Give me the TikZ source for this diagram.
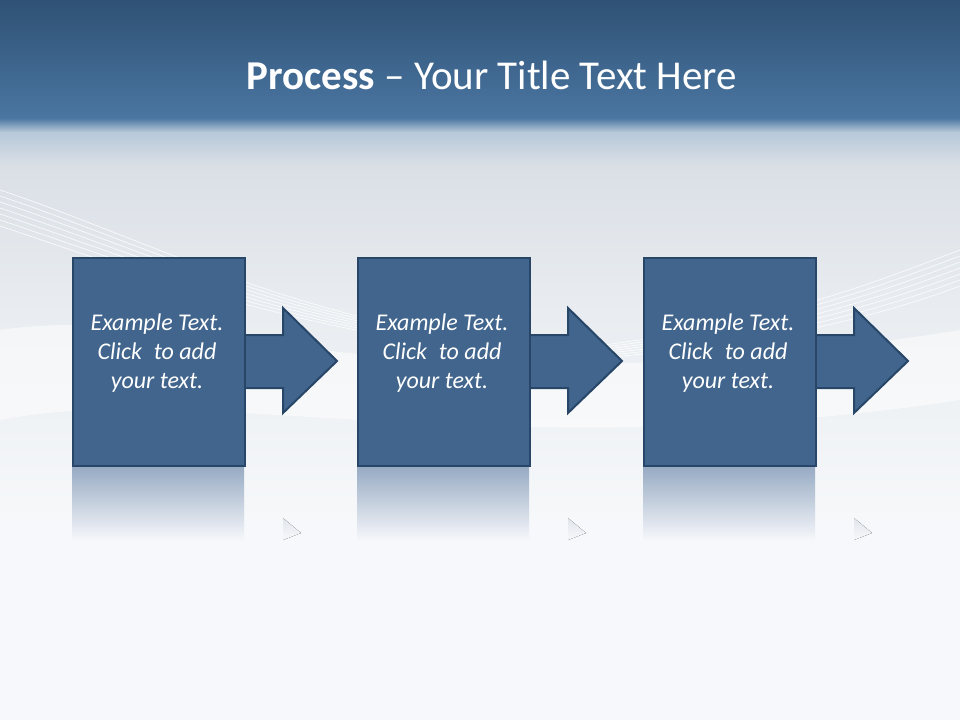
\documentclass[tikz,border=0pt]{standalone}
\usepackage{fontspec}
\setmainfont{Carlito}
\begin{document}
\begin{tikzpicture}[x=1pt,y=-1pt,
  boxst/.style={draw=boxedge,fill=boxfill,line width=2pt,minimum width=172pt,minimum height=208pt,inner sep=0pt},
  arrst/.style={draw=boxedge,fill=boxfill,line width=2pt,line join=miter},
  txt/.style={text=white,font=\itshape\fontsize{24}{29}\selectfont,align=center}]
\definecolor{boxfill}{HTML}{41658C}
\definecolor{boxedge}{HTML}{284668}
\definecolor{topA}{HTML}{2F5175}
\definecolor{topB}{HTML}{4A76A1}
\definecolor{bgA}{RGB}{218,223,230}
\definecolor{bgB}{RGB}{232,236,240}
\definecolor{bgC}{RGB}{246,248,250}
\definecolor{bgD}{RGB}{247,248,251}
\definecolor{refl}{RGB}{150,170,195}
\definecolor{refl2}{RGB}{225,229,235}
\useasboundingbox (0,0) rectangle (960,720);
\fill[top color=topA,bottom color=topB] (0,0) rectangle (960,118);
\fill[top color=topB,bottom color=white!60!topB] (0,118) rectangle (960,132);
\fill[top color=white!60!topB,bottom color=bgA] (0,132) rectangle (960,165);
\fill[top color=bgA,bottom color=bgB] (0,165) rectangle (960,300);
\fill[top color=bgB,bottom color=bgC] (0,300) rectangle (960,520);
\fill[bgD] (0,520) rectangle (960,720);
\foreach \d in {0,6,...,36}{
  \draw[white,line width=0.7pt,opacity=0.8] (0,190+\d) .. controls (120,230+\d) and (260,300+\d*0.5) .. (420,330+\d*0.3);
  \draw[white,line width=0.7pt,opacity=0.8] (960,250+\d) .. controls (880,280+\d) and (760,330+\d*0.5) .. (560,350+\d*0.3);
}
\fill[white,opacity=0.5] (0,330) .. controls (200,300) and (400,420) .. (960,330) -- (960,400) .. controls (500,470) and (200,380) .. (0,420) -- cycle;
\node[font=\fontsize{41}{48}\selectfont,text=white] (title) at (492,75) {\textbf{Process} – Your Title Text Here};
\foreach \i/\x in {1/72,2/357,3/643}{
  \fill[top color=refl,bottom color=bgD] (\x,466) rectangle ++(172,75);
  \fill[top color=refl2,bottom color=bgD] (\x+211,518) -- (\x+229,533) -- (\x+211,540) -- cycle;
  \coordinate (t\i) at (\x+265,361);
  \draw[arrst] (\x+170,335) -- (\x+211,335) -- (\x+211,308) -- (t\i) -- (\x+211,413) -- (\x+211,388) -- (\x+170,388);
  \node[boxst,anchor=north west] (b\i) at (\x,257) {};
  \node[txt] (l\i) at (\x+85,353) {Example Text.\\Click\hspace{0.5em}to add\\your text.};
}
\end{tikzpicture}
\end{document}
